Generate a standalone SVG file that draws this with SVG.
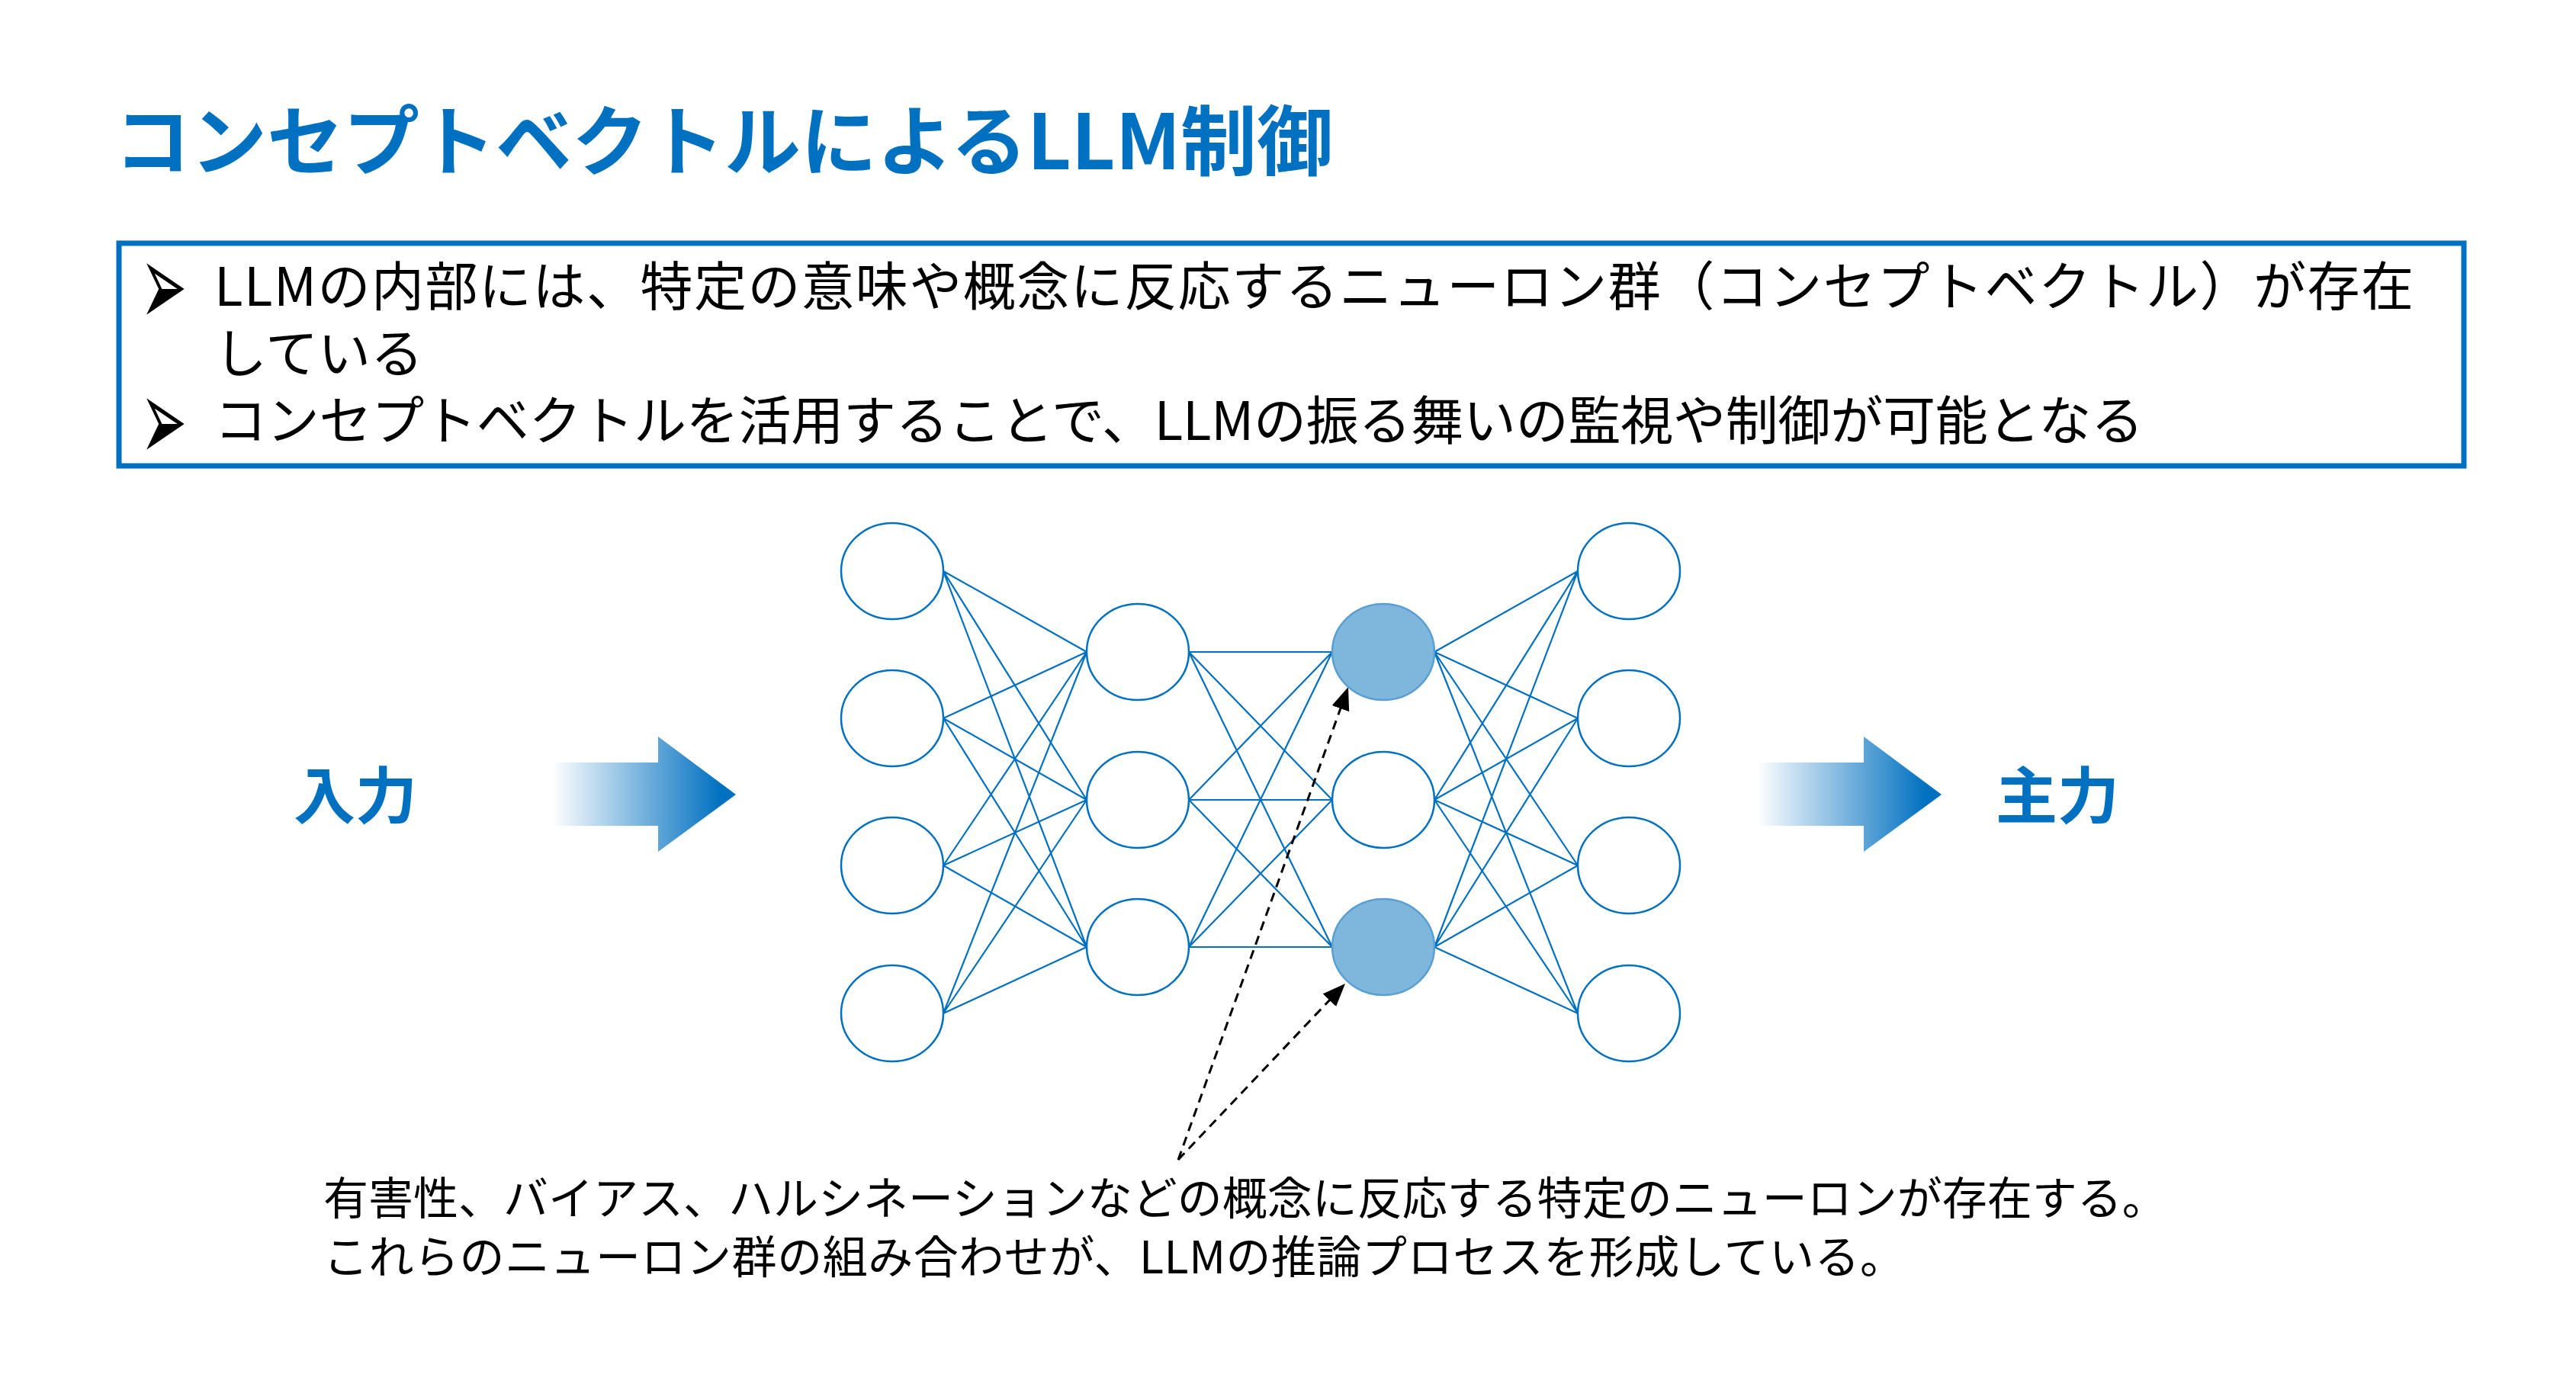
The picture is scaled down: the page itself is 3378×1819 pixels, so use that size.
<svg xmlns="http://www.w3.org/2000/svg" width="3378" height="1819" viewBox="0 0 3378 1819">
  <style>
    .title { font-family: "Noto Sans CJK JP", "Noto Sans", sans-serif; font-weight: 700; font-size: 100px; fill: #0070C0; }
    .body { font-family: "Noto Sans CJK JP", "Noto Sans", sans-serif; font-size: 69px; fill: #000; }
    .bullet { font-family: "DejaVu Sans", sans-serif; font-size: 73px; fill: #000; }
    .io { font-family: "Noto Sans CJK JP", "Noto Sans", sans-serif; font-weight: 700; font-size: 81px; fill: #0070C0; }
    .note { font-family: "Noto Sans CJK JP", "Noto Sans", sans-serif; font-size: 59px; fill: #000; }
    .node { fill: #FFFFFF; stroke: #0070C0; stroke-width: 2.5; }
    .hot { fill: #7FB6DC; stroke: #5A9FD4; stroke-width: 2.5; }
    .edge { stroke: #0070C0; stroke-width: 2.2; fill: none; }
    .ptr { stroke: #000; stroke-width: 3; stroke-dasharray: 12 8; fill: none; }
  </style>
  <defs>
    <linearGradient id="fade" x1="0" y1="0" x2="1" y2="0">
      <stop offset="0" stop-color="#FFFFFF"/>
      <stop offset="0.92" stop-color="#0070C0"/>
    </linearGradient>
    <marker id="head" markerUnits="userSpaceOnUse" markerWidth="32" markerHeight="26" refX="30" refY="12" orient="auto">
      <path d="M0,0 L30,12 L0,24 Z" fill="#000"/>
    </marker>
  </defs>

  <rect width="3378" height="1819" fill="#FFFFFF"/>

  <g id="title">
    <text class="title" x="150" y="222" textLength="1598">コンセプトベクトルによるLLM制御</text>
  </g>

  <g id="summary">
    <rect x="156" y="319" width="3075" height="292" fill="none" stroke="#0070C0" stroke-width="7"/>
    <text class="bullet" transform="translate(184,427) scale(1,2.1)">➢</text>
    <text class="bullet" transform="translate(184,604) scale(1,2.1)">➢</text>
    <text class="body"><tspan x="281" y="401" textLength="2884">LLMの内部には、特定の意味や概念に反応するニューロン群（コンセプトベクトル）が存在</tspan><tspan x="281" y="489">している</tspan><tspan x="281" y="577" textLength="2530">コンセプトベクトルを活用することで、LLMの振る舞いの監視や制御が可能となる</tspan></text>
  </g>

  <g id="input">
    <text class="io" x="385" y="1073">入力</text>
    <polygon points="724,1000 863,1000 863,966 965,1042 863,1117 863,1083 724,1083" fill="url(#fade)"/>
  </g>

  <g id="output">
    <polygon points="2304,1000 2444,1000 2444,966 2546,1042 2444,1117 2444,1083 2304,1083" fill="url(#fade)"/>
    <text class="io" x="2617" y="1073">主力</text>
  </g>

  <g id="connectors">
    <!-- layer 1 -> layer 2 -->
    <path class="edge" d="M1237,749 L1425,855 M1237,749 L1425,1049 M1237,749 L1425,1242
                          M1237,942 L1425,855 M1237,942 L1425,1049 M1237,942 L1425,1242
                          M1237,1135 L1425,855 M1237,1135 L1425,1049 M1237,1135 L1425,1242
                          M1237,1329 L1425,855 M1237,1329 L1425,1049 M1237,1329 L1425,1242"/>
    <!-- layer 2 -> layer 3 -->
    <path class="edge" d="M1559,855 L1747,855 M1559,855 L1747,1049 M1559,855 L1747,1242
                          M1559,1049 L1747,855 M1559,1049 L1747,1049 M1559,1049 L1747,1242
                          M1559,1242 L1747,855 M1559,1242 L1747,1049 M1559,1242 L1747,1242"/>
    <!-- layer 3 -> layer 4 -->
    <path class="edge" d="M1881,855 L2069,749 M1881,855 L2069,942 M1881,855 L2069,1135 M1881,855 L2069,1329
                          M1881,1049 L2069,749 M1881,1049 L2069,942 M1881,1049 L2069,1135 M1881,1049 L2069,1329
                          M1881,1242 L2069,749 M1881,1242 L2069,942 M1881,1242 L2069,1135 M1881,1242 L2069,1329"/>
    <!-- annotation pointers -->
    <line class="ptr" x1="1545" y1="1521" x2="1768" y2="901" marker-end="url(#head)"/>
    <line class="ptr" x1="1545" y1="1521" x2="1764" y2="1290" marker-end="url(#head)"/>
  </g>

  <g id="layer1">
    <ellipse id="n1-1" class="node" cx="1170" cy="749" rx="67" ry="63"/>
    <ellipse id="n1-2" class="node" cx="1170" cy="942" rx="67" ry="63"/>
    <ellipse id="n1-3" class="node" cx="1170" cy="1135" rx="67" ry="63"/>
    <ellipse id="n1-4" class="node" cx="1170" cy="1329" rx="67" ry="63"/>
  </g>
  <g id="layer2">
    <ellipse id="n2-1" class="node" cx="1492" cy="855" rx="67" ry="63"/>
    <ellipse id="n2-2" class="node" cx="1492" cy="1049" rx="67" ry="63"/>
    <ellipse id="n2-3" class="node" cx="1492" cy="1242" rx="67" ry="63"/>
  </g>
  <g id="layer3">
    <ellipse id="n3-1" class="hot" cx="1814" cy="855" rx="67" ry="63"/>
    <ellipse id="n3-2" class="node" cx="1814" cy="1049" rx="67" ry="63"/>
    <ellipse id="n3-3" class="hot" cx="1814" cy="1242" rx="67" ry="63"/>
  </g>
  <g id="layer4">
    <ellipse id="n4-1" class="node" cx="2136" cy="749" rx="67" ry="63"/>
    <ellipse id="n4-2" class="node" cx="2136" cy="942" rx="67" ry="63"/>
    <ellipse id="n4-3" class="node" cx="2136" cy="1135" rx="67" ry="63"/>
    <ellipse id="n4-4" class="node" cx="2136" cy="1329" rx="67" ry="63"/>
  </g>

  <g id="note">
    <text class="note"><tspan x="424" y="1593">有害性、バイアス、ハルシネーションなどの概念に反応する特定のニューロンが存在する。</tspan><tspan x="424" y="1670" textLength="2074">これらのニューロン群の組み合わせが、LLMの推論プロセスを形成している。</tspan></text>
  </g>
</svg>
